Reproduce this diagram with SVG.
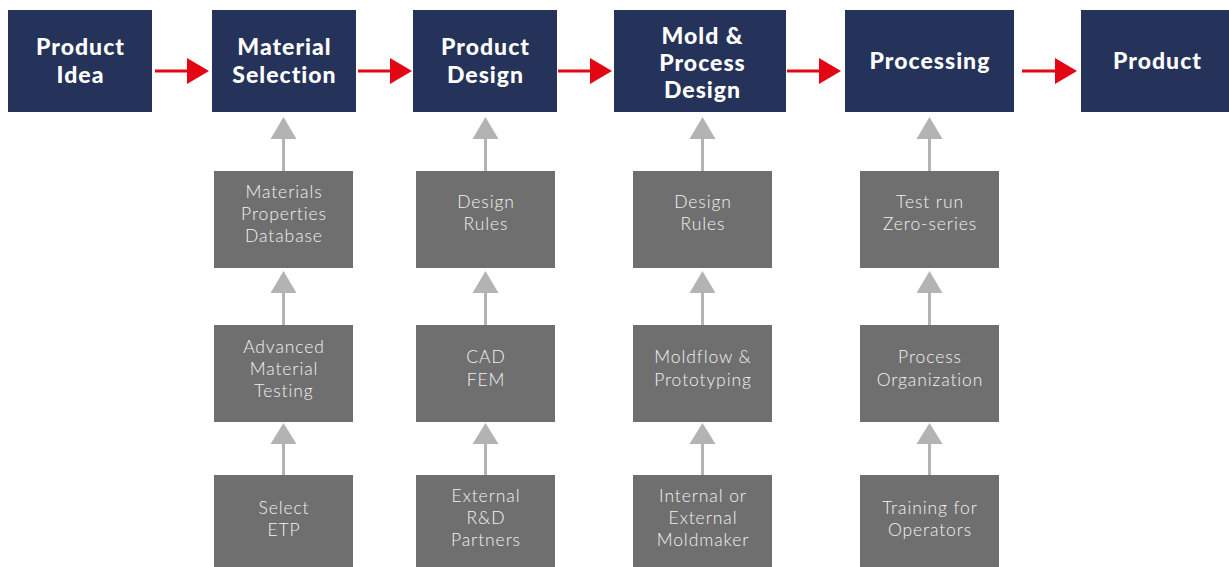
<svg xmlns="http://www.w3.org/2000/svg" width="1229" height="567" viewBox="0 0 1229 567">
<style>
.main{fill:#253259}
.sub{fill:#6f6f6f}
.tm{font-family:Lato,"Open Sans",sans-serif;font-weight:900;font-size:23px;fill:#ffffff;text-anchor:middle;letter-spacing:1px}
.ts{font-family:Lato,"Open Sans",sans-serif;font-weight:300;font-size:17.5px;fill:#f2f2f2;text-anchor:middle;letter-spacing:0.9px}
.rl{stroke:#e30613;stroke-width:3}
.rh{fill:#e30613}
.gl{stroke:#b3b3b3;stroke-width:3}
.gh{fill:#b3b3b3}
</style>
<rect width="1229" height="567" fill="#ffffff"/>
<g id="connectors">
<line class="rl" x1="155" y1="71" x2="190" y2="71"/><polygon class="rh" points="187,58 209,71 187,84"/>
<line class="rl" x1="358" y1="71" x2="393" y2="71"/><polygon class="rh" points="390,58 412,71 390,84"/>
<line class="rl" x1="558" y1="71" x2="593" y2="71"/><polygon class="rh" points="590,58 612,71 590,84"/>
<line class="rl" x1="787" y1="71" x2="822" y2="71"/><polygon class="rh" points="819,58 841,71 819,84"/>
<line class="rl" x1="1022" y1="71" x2="1058" y2="71"/><polygon class="rh" points="1055,58 1077,71 1055,84"/>
<g id="c1">
<line class="gl" x1="283.5" y1="137" x2="283.5" y2="171"/><polygon class="gh" points="270.5,139 283.5,117 296.5,139"/>
<line class="gl" x1="283.5" y1="291" x2="283.5" y2="325"/><polygon class="gh" points="270.5,293 283.5,271 296.5,293"/>
<line class="gl" x1="283.5" y1="442" x2="283.5" y2="475"/><polygon class="gh" points="270.5,444 283.5,423 296.5,444"/>
</g>
<g id="c2">
<line class="gl" x1="485.5" y1="137" x2="485.5" y2="171"/><polygon class="gh" points="472.5,139 485.5,117 498.5,139"/>
<line class="gl" x1="485.5" y1="291" x2="485.5" y2="325"/><polygon class="gh" points="472.5,293 485.5,271 498.5,293"/>
<line class="gl" x1="485.5" y1="442" x2="485.5" y2="475"/><polygon class="gh" points="472.5,444 485.5,423 498.5,444"/>
</g>
<g id="c3">
<line class="gl" x1="702.5" y1="137" x2="702.5" y2="171"/><polygon class="gh" points="689.5,139 702.5,117 715.5,139"/>
<line class="gl" x1="702.5" y1="291" x2="702.5" y2="325"/><polygon class="gh" points="689.5,293 702.5,271 715.5,293"/>
<line class="gl" x1="702.5" y1="442" x2="702.5" y2="475"/><polygon class="gh" points="689.5,444 702.5,423 715.5,444"/>
</g>
<g id="c4">
<line class="gl" x1="929.5" y1="137" x2="929.5" y2="171"/><polygon class="gh" points="916.5,139 929.5,117 942.5,139"/>
<line class="gl" x1="929.5" y1="291" x2="929.5" y2="325"/><polygon class="gh" points="916.5,293 929.5,271 942.5,293"/>
<line class="gl" x1="929.5" y1="442" x2="929.5" y2="475"/><polygon class="gh" points="916.5,444 929.5,423 942.5,444"/>
</g>
</g>
<g id="product-idea"><rect class="main" x="8" y="10" width="144" height="102"/><text class="tm" x="80.5" y="55">Product</text><text class="tm" x="80.5" y="83">Idea</text></g>
<g id="material-selection"><rect class="main" x="212" y="10" width="144" height="102"/><text class="tm" x="284.5" y="55">Material</text><text class="tm" x="284.5" y="83">Selection</text></g>
<g id="product-design"><rect class="main" x="413" y="10" width="144" height="102"/><text class="tm" x="485.5" y="55">Product</text><text class="tm" x="485.5" y="83">Design</text></g>
<g id="mold-process-design"><rect class="main" x="614" y="10" width="172" height="102"/><text class="tm" x="702.5" y="44">Mold &amp;</text><text class="tm" x="702.5" y="71">Process</text><text class="tm" x="702.5" y="98">Design</text></g>
<g id="processing"><rect class="main" x="845" y="10" width="169" height="102"/><text class="tm" x="930" y="69">Processing</text></g>
<g id="product"><rect class="main" x="1081" y="10" width="148" height="102"/><text class="tm" x="1157.5" y="69">Product</text></g>

<g id="materials-db"><rect class="sub" x="214" y="171" width="139" height="97"/><text class="ts" x="284" y="198">Materials</text><text class="ts" x="284" y="220">Properties</text><text class="ts" x="284" y="242">Database</text></g>
<g id="adv-testing"><rect class="sub" x="214" y="325" width="139" height="97"/><text class="ts" x="284" y="353">Advanced</text><text class="ts" x="284" y="375">Material</text><text class="ts" x="284" y="397">Testing</text></g>
<g id="select-etp"><rect class="sub" x="214" y="475" width="139" height="92"/><text class="ts" x="284" y="514">Select</text><text class="ts" x="284" y="536">ETP</text></g>

<g id="design-rules-1"><rect class="sub" x="416" y="171" width="139" height="97"/><text class="ts" x="486" y="208">Design</text><text class="ts" x="486" y="230">Rules</text></g>
<g id="cad-fem"><rect class="sub" x="416" y="325" width="139" height="97"/><text class="ts" x="486" y="363">CAD</text><text class="ts" x="486" y="386">FEM</text></g>
<g id="rd-partners"><rect class="sub" x="416" y="475" width="139" height="92"/><text class="ts" x="486" y="502">External</text><text class="ts" x="486" y="524">R&amp;D</text><text class="ts" x="486" y="546">Partners</text></g>

<g id="design-rules-2"><rect class="sub" x="633" y="171" width="139" height="97"/><text class="ts" x="703" y="208">Design</text><text class="ts" x="703" y="230">Rules</text></g>
<g id="moldflow"><rect class="sub" x="633" y="325" width="139" height="97"/><text class="ts" x="703" y="363">Moldflow &amp;</text><text class="ts" x="703" y="386">Prototyping</text></g>
<g id="moldmaker"><rect class="sub" x="633" y="475" width="139" height="92"/><text class="ts" x="703" y="502">Internal or</text><text class="ts" x="703" y="524">External</text><text class="ts" x="703" y="546">Moldmaker</text></g>

<g id="test-run"><rect class="sub" x="860" y="171" width="139" height="97"/><text class="ts" x="930" y="208">Test run</text><text class="ts" x="930" y="230">Zero-series</text></g>
<g id="process-org"><rect class="sub" x="860" y="325" width="139" height="97"/><text class="ts" x="930" y="363">Process</text><text class="ts" x="930" y="386">Organization</text></g>
<g id="training"><rect class="sub" x="860" y="475" width="139" height="92"/><text class="ts" x="930" y="514">Training for</text><text class="ts" x="930" y="536">Operators</text></g>
</svg>
